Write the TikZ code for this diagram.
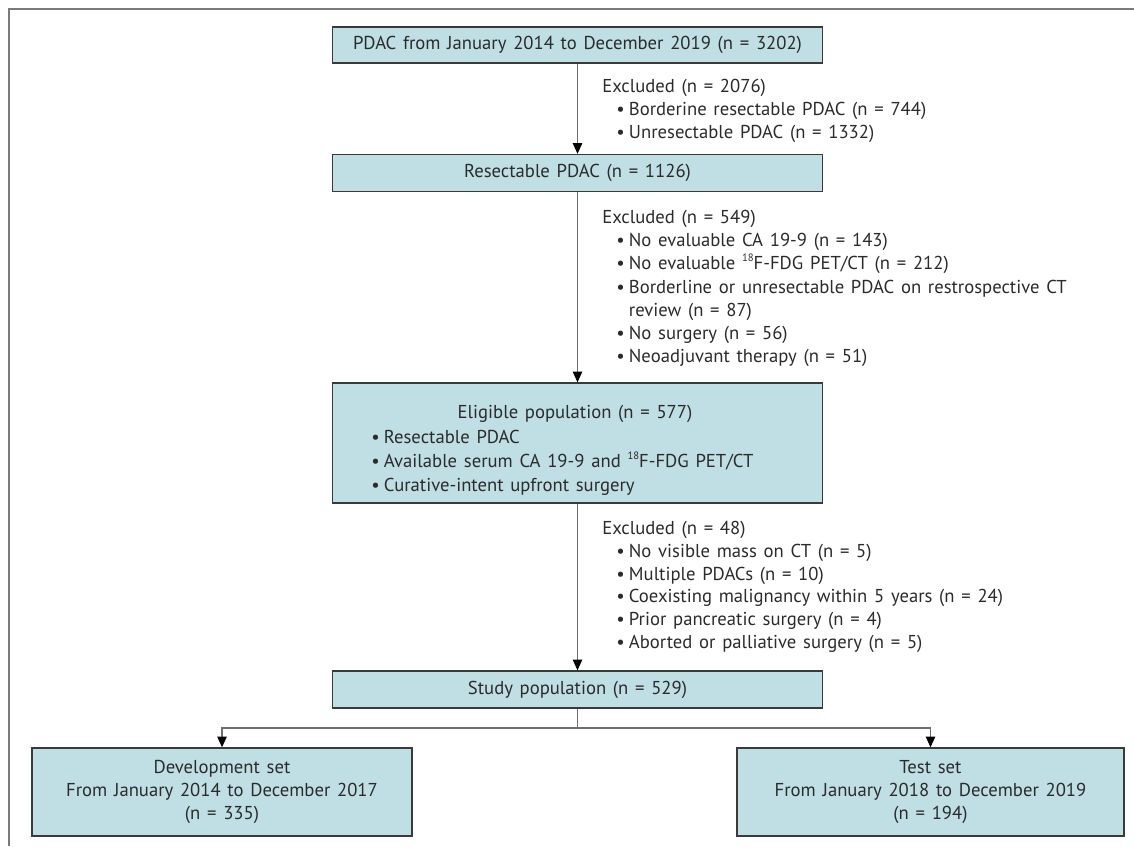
\documentclass[tikz,border=0pt]{standalone}
\usepackage{fontspec}
\setmainfont{PT Sans}[WordSpace=1.35]
\usetikzlibrary{arrows.meta}
\definecolor{boxfill}{HTML}{BFDFE5}
\definecolor{boxline}{HTML}{3A3A3A}
\definecolor{conn}{HTML}{6E6E6E}
\definecolor{txt}{HTML}{2B2B2B}
\definecolor{framec}{HTML}{7A7A7A}
\newcommand{\fsz}{\fontsize{14}{17}\selectfont}
\newcommand{\bul}{\makebox[9.5pt][l]{•}}
\newcommand{\iso}{\raisebox{0.42em}{\fontsize{8}{8}\selectfont 18}}
\begin{document}
\begin{tikzpicture}[x=0.75pt,y=-0.75pt,
  box/.style={draw=boxline,fill=boxfill,line width=1pt,inner sep=0pt,text=txt,font=\fsz,align=center},
  lbl/.style={anchor=base west,inner sep=0pt,text=txt,font=\fsz},
  ctr/.style={anchor=base,inner sep=0pt,text=txt,font=\fsz},
  arr/.style={draw=conn,line width=1pt,-{Triangle[length=8pt,width=7pt,color=black]}},
  conline/.style={draw=conn,line width=1pt},
  framel/.style={draw=framec,line width=1.5pt}]
\useasboundingbox (0,0) rectangle (1134,846);
% frame (top and left)
\coordinate (fr) at (1134,9);
\coordinate (fc) at (9,9);
\coordinate (fb) at (9,846);
\draw[framel] (fr) -- (fc) -- (fb);
% boxes
\node[box,minimum width=367.5pt,minimum height=27pt] (b1) at (577.5,45) {PDAC from January 2014 to December 2019 (n = 3202)};
\node[box,minimum width=367.5pt,minimum height=27.75pt] (b2) at (577.5,173) {Resectable PDAC (n = 1126)};
\node[box,minimum width=367.5pt,minimum height=90pt] (b3) at (577.5,443) {};
\node[box,minimum width=367.5pt,minimum height=27.75pt] (b4) at (577.5,689.5) {Study population (n = 529)};
\node[box,minimum width=285pt,minimum height=66pt] (dev) at (222,792) {Development set\\From January 2014 to December 2017\\(n = 335)};
\node[box,minimum width=290.25pt,minimum height=66pt] (tst) at (930.5,792) {Test set\\From January 2018 to December 2019\\(n = 194)};
% eligible box text
\node[ctr] (e0) at (575,418) {Eligible population (n = 577)};
\node[lbl] (e1) at (371,443) {\bul Resectable PDAC};
\node[lbl] (e2) at (371,467) {\bul Available serum CA 19-9 and \iso F-FDG PET/CT};
\node[lbl] (e3) at (371,491) {\bul Curative-intent upfront surgery};
% exclusion 1
\node[lbl] (x1h) at (602,92) {Excluded (n = 2076)};
\node[lbl] (x1a) at (616,115) {\bul Borderine resectable PDAC (n = 744)};
\node[lbl] (x1b) at (616,138) {\bul Unresectable PDAC (n = 1332)};
% exclusion 2
\node[lbl] (x2h) at (602,223) {Excluded (n = 549)};
\node[lbl] (x2a) at (616,246) {\bul No evaluable CA 19-9 (n = 143)};
\node[lbl] (x2b) at (616,269.5) {\bul No evaluable \iso F-FDG PET/CT (n = 212)};
\node[lbl] (x2c) at (616,293) {\bul Borderline or unresectable PDAC on restrospective CT};
\node[lbl] (x2d) at (616,316) {\hphantom{\bul}review (n = 87)};
\node[lbl] (x2e) at (616,339) {\bul No surgery (n = 56)};
\node[lbl] (x2f) at (616,362) {\bul Neoadjuvant therapy (n = 51)};
% exclusion 3
\node[lbl] (x3h) at (602,534) {Excluded (n = 48)};
\node[lbl] (x3a) at (616,557) {\bul No visible mass on CT (n = 5)};
\node[lbl] (x3b) at (616,580) {\bul Multiple PDACs (n = 10)};
\node[lbl] (x3c) at (616,602.5) {\bul Coexisting malignancy within 5 years (n = 24)};
\node[lbl] (x3d) at (616,625) {\bul Prior pancreatic surgery (n = 4)};
\node[lbl] (x3e) at (616,648) {\bul Aborted or palliative surgery (n = 5)};
% connectors
\draw[arr] (b1) -- (b2);
\draw[arr] (b2) -- (b3);
\draw[arr] (b3) -- (b4);
\coordinate (split) at (577.5,728);
\draw[conline] (b4) -- (split);
\draw[arr] (split) -| (dev.north);
\draw[arr] (split) -| (tst.north);
\end{tikzpicture}
\end{document}
